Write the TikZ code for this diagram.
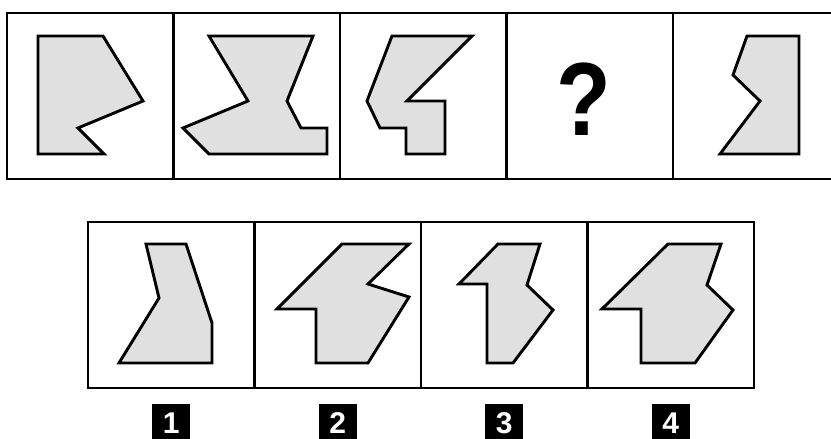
\documentclass[tikz,border=0pt]{standalone}
\usepackage{fontspec}
\setmainfont{Liberation Sans}
\usepackage{tikz}
\usetikzlibrary{positioning}
\usepackage{xcolor}
\definecolor{shapegray}{RGB}{224,224,224}
\tikzset{
  panel/.style={rectangle, draw=black, line width=2.8pt, minimum width=166.5pt,
                minimum height=166pt, inner sep=0pt, outer sep=0pt},
  fig/.style={draw=black, fill=shapegray, line width=2.9pt, line join=miter},
  qmark/.style={inner sep=0pt, xscale=0.86,
                font=\fontsize{104}{104}\selectfont\bfseries},
  numlabel/.style={rectangle, fill=black, text=white, minimum width=38pt,
                   minimum height=38pt, inner sep=0pt,
                   font=\fontsize{30}{30}\selectfont\bfseries},
}

\begin{document}
\begin{tikzpicture}[x=1pt, y=-1pt]
    \useasboundingbox (0,0) rectangle (831,439);
    \clip (0,0) rectangle (831,439);
    % question row
    \node[panel, anchor=north west] (t1) at (7,13) {};
    \node[panel, right=0pt of t1] (t2) {};
    \node[panel, right=0pt of t2] (t3) {};
    \node[panel, right=0pt of t3] (t4) {};
    \node[panel, right=0pt of t4] (t5) {};
    \node[qmark] (q) at (584,99) {?};
    \draw[fig] (38,36) -- (103,36) -- (143,101) -- (78,128) -- (104,154) -- (38,154) -- cycle;
    \draw[fig] (209,36) -- (313,36) -- (287,101) -- (301,128) -- (327,128) -- (327,154)
               -- (209,154) -- (183,128) -- (248,101) -- cycle;
    \draw[fig] (392,36) -- (472,36) -- (407,101) -- (445,101) -- (445,154) -- (406,154)
               -- (406,128) -- (380,128) -- (367,101) -- cycle;
    \draw[fig] (747,36) -- (799,36) -- (799,154) -- (720,154) -- (760,101) -- (733,75) -- cycle;
    % answer row
    \node[panel, anchor=north west] (b1) at (88,222) {};
    \node[panel, right=0pt of b1] (b2) {};
    \node[panel, right=0pt of b2] (b3) {};
    \node[panel, right=0pt of b3] (b4) {};
    \draw[fig] (146,244) -- (186,244) -- (212,323) -- (212,363) -- (119,363) -- (159,298) -- cycle;
    \draw[fig] (342,244) -- (409,244) -- (368,284) -- (409,297) -- (368,363) -- (316,363)
               -- (316,309) -- (277,309) -- cycle;
    \draw[fig] (498,244) -- (540,244) -- (527,285) -- (553,310) -- (513,363) -- (487,363)
               -- (487,284) -- (459,284) -- cycle;
    \draw[fig] (668,244) -- (721,244) -- (707,285) -- (733,310) -- (695,363) -- (641,363)
               -- (641,309) -- (602,309) -- cycle;
    \node[numlabel, below=16pt of b1] (n1) {1};
    \node[numlabel, below=16pt of b2] (n2) {2};
    \node[numlabel, below=16pt of b3] (n3) {3};
    \node[numlabel, below=16pt of b4] (n4) {4};
\end{tikzpicture}
\end{document}
